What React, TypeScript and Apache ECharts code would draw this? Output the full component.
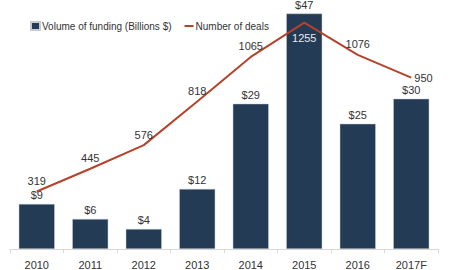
import React, { useEffect, useRef } from "react";
import * as echarts from "echarts";

const categories = ["2010", "2011", "2012", "2013", "2014", "2015", "2016", "2017F"];
const funding = [9, 6, 4, 12, 29, 47, 25, 30];
const deals = [319, 445, 576, 818, 1065, 1255, 1076, 950];
const dealLabelPos = ["top", "top", "top", "top", "top", "bottom", "top", "right"];

const FONT = "Liberation Sans";

export default function App() {
  const ref = useRef<HTMLDivElement>(null);
  useEffect(() => {
    if (!ref.current) return;
    const chart = echarts.init(ref.current, undefined, { renderer: "svg" });
    chart.setOption({
      animation: false,
      textStyle: { fontFamily: FONT },
      legend: {
        left: 25,
        top: 16,
        itemWidth: 9,
        itemHeight: 8,
        itemGap: 12,
        textStyle: { fontSize: 10, color: "#333", fontFamily: FONT, padding: [0, 0, 0, -3] },
        data: [
          { name: "Volume of funding (Billions $)", icon: "rect" },
          { name: "Number of deals", itemStyle: { opacity: 0 } },
        ],
      },
      grid: { left: 10, right: 12, top: 1, bottom: 18, containLabel: false },
      xAxis: {
        type: "category",
        data: categories,
        axisLine: { lineStyle: { color: "#d9d9d9" } },
        axisTick: { show: true, length: 4, lineStyle: { color: "#d9d9d9" } },
        axisLabel: { fontSize: 11, color: "#333", margin: 10, fontFamily: FONT },
      },
      yAxis: [
        { type: "value", min: 0, max: 49.5, show: false },
        { type: "value", min: 0, max: 1375, show: false },
      ],
      series: [
        {
          name: "Volume of funding (Billions $)",
          type: "bar",
          data: funding,
          barWidth: 36,
          itemStyle: { color: "#243b55", borderColor: "#c8ccd2", borderWidth: 0.5 },
          label: {
            show: true,
            position: "top",
            distance: 3,
            fontSize: 11,
            color: "#333",
            fontFamily: FONT,
            formatter: (p: any) => "$" + p.value,
          },
        },
        {
          name: "Number of deals",
          type: "line",
          yAxisIndex: 1,
          data: deals.map((v, i) => ({
            value: v,
            label: {
              position: dealLabelPos[i],
              color: i === 5 ? "#e6e9ee" : "#333",
              distance: i === 7 ? 3 : i === 5 ? 10 : 5,
            },
          })),
          symbol: "circle",
          symbolSize: 0.1,
          showSymbol: true,
          lineStyle: { color: "#b5432a", width: 2 },
          itemStyle: { color: "#b5432a" },
          label: { show: true, fontSize: 11, fontFamily: FONT },
          z: 3,
        },
      ],
    });
    return () => chart.dispose();
  }, []);
  return (
    <div
      ref={ref}
      style={{ position: "absolute", left: 0, top: 0, width: 450, height: 270 }}
    />
  );
}
